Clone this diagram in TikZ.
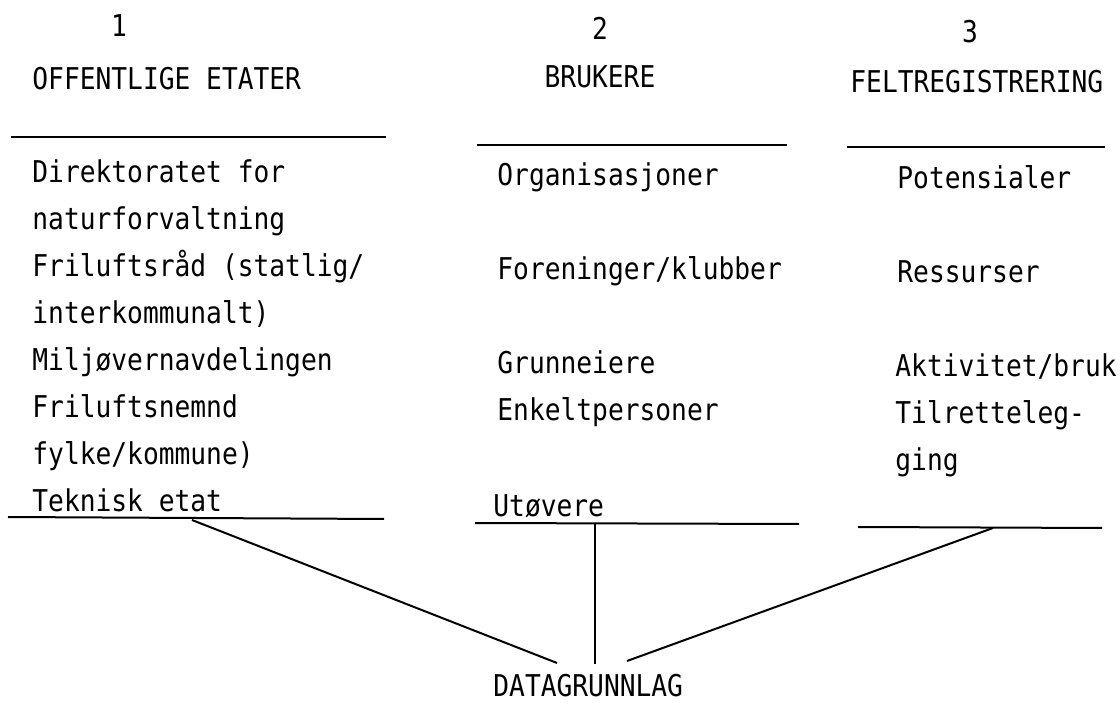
\documentclass[tikz,border=0pt]{standalone}
\usepackage{fontspec}
\setmonofont[FakeStretch=0.875]{DejaVu Sans Mono}
\begin{document}
\begin{tikzpicture}[x=0.5pt,y=-0.5pt,
    txt/.style={inner sep=0pt,anchor=base west,font=\ttfamily\fontsize{15}{17}\selectfont},
    rule/.style={line width=1pt}]
    \useasboundingbox (0,0) rectangle (1120,705);
    % headings
    \node [txt,anchor=base] (n1) at (119,37) {1};
    \node [txt,anchor=base] (n2) at (600,40) {2};
    \node [txt,anchor=base] (n3) at (970,43) {3};
    \node [txt] (h1) at (32,90) {OFFENTLIGE ETATER};
    \node [txt,anchor=base] (h2) at (600,88) {BRUKERE};
    \node [txt] (h3) at (850,93) {FELTREGISTRERING};
    % column 1
    \foreach \t [count=\i] in {Direktoratet for,naturforvaltning,Friluftsråd (statlig/,
        interkommunalt),Miljøvernavdelingen,Friluftsnemnd,fylke/kommune),Teknisk etat}
        \node [txt] (e\i) at (32,136+47*\i) {\t};
    % column 2
    \node [txt] (b1) at (497,186) {Organisasjoner};
    \node [txt] (b2) at (497,280) {Foreninger/klubber};
    \node [txt] (b3) at (497,374) {Grunneiere};
    \node [txt] (b4) at (497,421) {Enkeltpersoner};
    \node [txt] (b5) at (493,517) {Utøvere};
    % column 3
    \node [txt] (f1) at (897,189) {Potensialer};
    \node [txt] (f2) at (897,283) {Ressurser};
    \node [txt] (f3) at (895,377) {Aktivitet/bruk};
    \node [txt] (f4) at (895,424) {Tilretteleg-};
    \node [txt] (f5) at (895,471) {ging};
    \node [txt] (dg) at (493,697) {DATAGRUNNLAG};
    % rules
    \draw [rule] (11,137) -- (386,137) (477,145) -- (787,145) (847,147) -- (1105,147);
    \draw [rule] (8,517) -- (384,519) (475,523) -- (799,524) (858,527) -- (1102,528);
    \path (192,520) coordinate (A) (595,523) coordinate (B) (993,528) coordinate (C)
        (557,663) coordinate (A') (595,664) coordinate (B') (627,661) coordinate (C');
    \foreach \x in {A,B,C} \draw [rule] (\x) -- (\x');
\end{tikzpicture}
\end{document}
